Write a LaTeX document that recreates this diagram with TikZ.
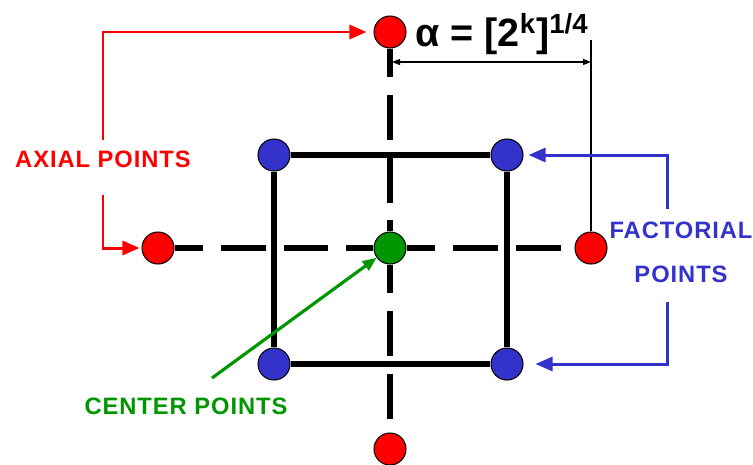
\documentclass[tikz,border=0pt]{standalone}
\usepackage{fontspec}
\usepackage{xcolor}
\setmainfont{DejaVu Sans}
\newfontfamily\formulafont{Liberation Sans}
\newfontfamily\lblfont[LetterSpace=4]{Liberation Sans}
\usetikzlibrary{arrows.meta}
\definecolor{axRed}{RGB}{255,0,0}
\definecolor{facBlue}{RGB}{51,51,204}
\definecolor{ctrGreen}{RGB}{0,150,0}

\begin{document}
\begin{tikzpicture}[x=0.02cm, y=-0.02cm]
% Define styles
\tikzstyle{redPt}=[circle, minimum size=0.64cm, inner sep=0pt, draw=black, line width=0.6pt, fill=axRed]
\tikzstyle{bluePt}=[circle, minimum size=0.64cm, inner sep=0pt, draw=black, line width=0.6pt, fill=facBlue]
\tikzstyle{greenPt}=[circle, minimum size=0.64cm, inner sep=0pt, draw=black, line width=0.6pt, fill=ctrGreen]
\tikzstyle{label}=[inner sep=0pt, font=\lblfont\bfseries\fontsize{13.5}{25}\selectfont, align=center]
\tikzstyle{frame}=[line width=3.2pt]
\tikzstyle{axis}=[line width=3.2pt, dash pattern=on 0.9cm off 0.36cm, dash phase=0.34cm]
\tikzstyle{redArrow}=[-{Triangle[length=0.34cm,width=0.28cm]}, line width=1.7pt, draw=axRed]
\tikzstyle{blueArrow}=[-{Triangle[length=0.34cm,width=0.28cm]}, line width=1.7pt, draw=facBlue]
\tikzstyle{greenArrow}=[-{Triangle[length=0.28cm,width=0.22cm]}, line width=1.8pt, draw=ctrGreen]
\tikzstyle{dim}=[line width=0.7pt]

\useasboundingbox (0,0) rectangle (753,464);

% Draw design points
\node[redPt] (axTop) at (390,32) {};
\node[redPt] (axBot) at (390,449) {};
\node[redPt] (axLeft) at (158,248) {};
\node[redPt] (axRight) at (591,248) {};
\node[greenPt] (ctr) at (390,248) {};
\node[bluePt] (fTL) at (274,155) {};
\node[bluePt] (fTR) at (507,155) {};
\node[bluePt] (fBL) at (274,364) {};
\node[bluePt] (fBR) at (507,364) {};

% Factorial square
\draw[frame] (fTL) -- (fTR);
\draw[frame] (fTR) -- (fBR);
\draw[frame] (fBR) -- (fBL);
\draw[frame] (fBL) -- (fTL);

% Dashed axes
\draw[axis] (axLeft) -- (ctr);
\draw[axis] (ctr) -- (axRight);
\draw[axis] (axTop) -- (ctr);
\draw[axis] (ctr) -- (axBot);

% Distance alpha
\coordinate (dimTop) at (591,40);
\coordinate (dimA) at (392,62);
\coordinate (dimB) at (591,62);
\draw[dim] (axRight) -- (dimTop);
\draw[dim, {Triangle[length=0.16cm,width=0.12cm]}-{Triangle[length=0.16cm,width=0.12cm]}] (dimA) -- (dimB);
\node[inner sep=0pt, font=\formulafont\bfseries\fontsize{22.5}{25}\selectfont] (alphaLbl) at (502,34) {α = [2\textsuperscript{k}]\textsuperscript{1/4}};

% Labels
\node[label, text=axRed] (axialLbl) at (103,159) {AXIAL POINTS};
\node[label, text=facBlue] (factLbl) at (681,252) {FACTORIAL\\POINTS};
\node[label, text=ctrGreen] (centerLbl) at (186,406) {CENTER POINTS};

% Arrows
\draw[redArrow, shorten >=0.14cm] ([yshift=0.2cm]axialLbl.north) |- (axTop);
\draw[redArrow, shorten >=0.04cm] ([yshift=-0.54cm]axialLbl.south) |- (axLeft);
\draw[blueArrow, shorten >=0.1cm] ([xshift=-0.28cm, yshift=0.24cm]factLbl.north) |- (fTR);
\draw[blueArrow, shorten >=0.24cm] ([xshift=-0.28cm, yshift=-0.38cm]factLbl.south) |- (fBR);
\coordinate (ctrTail) at (212,378);
\draw[greenArrow] (ctrTail) -- (ctr);
\end{tikzpicture}
\end{document}
